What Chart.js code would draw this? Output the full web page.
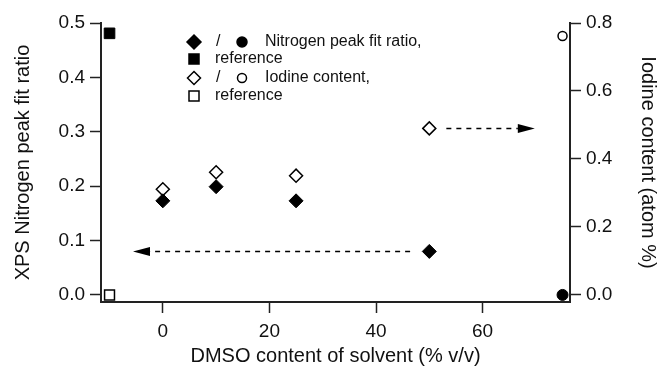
<!DOCTYPE html>
<html>
<head>
<meta charset="utf-8">
<script src="https://cdn.jsdelivr.net/npm/chart.js@4.4.1/dist/chart.umd.min.js"></script>
<style>
  html, body { margin: 0; padding: 0; background: #fff; }
  #wrap { width: 658px; height: 370px; }
</style>
</head>
<body>
<div id="wrap"><canvas id="c"></canvas></div>
<script>
// DMSO content of the solvent (% v/v)
const dmso = [0, 10, 25, 50];
const nitrogenRatio = [0.173, 0.199, 0.173, 0.080];
const iodineContent = [0.311, 0.361, 0.351, 0.490];

// reference samples (drawn at the left edge) and the right-edge pair
const refX = [-10];
const nitrogenRef = [0.481];
const iodineRef = [0.0];
const edgeX = [75];
const nitrogenEdge = [0.0];
const iodineEdge = [0.762];

// tick values
const xTicks = [0, 20, 40, 60];
const yTicks = [0, 0.1, 0.2, 0.3, 0.4, 0.5];
const y1Ticks = [0, 0.2, 0.4, 0.6, 0.8];

// dashed arrows pointing to the axis each series belongs to
const arrowFrom = [46.4, 53.2];
const arrowTo = [-5.6, 69.8];
const arrowY = [0.080, 0.490];
const arrowAxis = ["y", "y1"];

const legendText = ["Nitrogen peak fit ratio,", "reference", "Iodine content,", "reference"];

const FONT = "'Liberation Sans', Arial, Helvetica, sans-serif";
const INK = "#111";
const AXIS = "#222";

function pts(xs, ys) {
  return xs.map((x, i) => ({ x: x, y: ys[i] }));
}

// small marker helper used by the legend
function mark(ctx, kind, x, y, r, filled) {
  ctx.save();
  ctx.beginPath();
  if (kind === "diamond") {
    ctx.moveTo(x, y - r); ctx.lineTo(x + r, y); ctx.lineTo(x, y + r); ctx.lineTo(x - r, y);
    ctx.closePath();
  } else if (kind === "square") {
    ctx.rect(x - r, y - r, 2 * r, 2 * r);
  } else {
    ctx.arc(x, y, r, 0, Math.PI * 2);
  }
  ctx.fillStyle = filled ? "#000" : "#fff";
  ctx.fill();
  ctx.lineWidth = 1.5;
  ctx.strokeStyle = "#000";
  ctx.stroke();
  ctx.restore();
}

const arrowPlugin = {
  id: "arrows",
  afterDatasetsDraw(chart) {
    const ctx = chart.ctx;
    const xs = chart.scales.x;
    ctx.save();
    arrowFrom.forEach((from, i) => {
      const ys = chart.scales[arrowAxis[i]];
      const x0 = xs.getPixelForValue(from);
      const x1 = xs.getPixelForValue(arrowTo[i]);
      const y = ys.getPixelForValue(arrowY[i]);
      const dir = x1 > x0 ? 1 : -1;
      const head = 17;
      ctx.setLineDash([5, 5]);
      ctx.lineWidth = 1.5;
      ctx.strokeStyle = "#000";
      ctx.beginPath();
      ctx.moveTo(x0, y);
      ctx.lineTo(x1 - dir * head, y);
      ctx.stroke();
      ctx.setLineDash([]);
      ctx.beginPath();
      ctx.moveTo(x1, y);
      ctx.lineTo(x1 - dir * head, y - 4.5);
      ctx.lineTo(x1 - dir * head, y + 4.5);
      ctx.closePath();
      ctx.fillStyle = "#000";
      ctx.fill();
    });
    ctx.restore();
  }
};

const legendPlugin = {
  id: "markLegend",
  afterDraw(chart) {
    const ctx = chart.ctx;
    ctx.save();
    ctx.font = "16px " + FONT;
    ctx.fillStyle = INK;
    ctx.textBaseline = "middle";
    const rows = [42, 59, 78, 96];
    // row 1: filled diamond / filled circle
    mark(ctx, "diamond", 194, rows[0], 7, true);
    ctx.fillText("/", 216, rows[0]);
    mark(ctx, "circle", 242, rows[0], 5, true);
    ctx.fillText(legendText[0], 265, rows[0]);
    // row 2: filled square
    mark(ctx, "square", 194, rows[1], 5, true);
    ctx.fillText(legendText[1], 215, rows[1]);
    // row 3: open diamond / open circle
    mark(ctx, "diamond", 194, rows[2], 6.5, false);
    ctx.fillText("/", 216, rows[2]);
    mark(ctx, "circle", 242, rows[2], 4.5, false);
    ctx.fillText(legendText[2], 265, rows[2]);
    // row 4: open square
    mark(ctx, "square", 194, rows[3], 5, false);
    ctx.fillText(legendText[3], 215, rows[3]);
    ctx.restore();
  }
};

function axisGrid() {
  return { display: true, drawOnChartArea: false, drawTicks: true, tickLength: 11, tickWidth: 1.5, tickColor: AXIS };
}

new Chart(document.getElementById("c"), {
  type: "scatter",
  data: {
    datasets: [
      { label: "Nitrogen peak fit ratio", data: pts(dmso, nitrogenRatio), yAxisID: "y",
        pointStyle: "rectRot", pointRadius: 7, backgroundColor: "#000", borderColor: "#000", borderWidth: 1 },
      { label: "Nitrogen reference", data: pts(refX, nitrogenRef), yAxisID: "y",
        pointStyle: "rect", pointRadius: 7.5, backgroundColor: "#000", borderColor: "#000", borderWidth: 1 },
      { label: "Nitrogen edge", data: pts(edgeX, nitrogenEdge), yAxisID: "y",
        pointStyle: "circle", pointRadius: 5.5, backgroundColor: "#000", borderColor: "#000", borderWidth: 1 },
      { label: "Iodine content", data: pts(dmso, iodineContent), yAxisID: "y1",
        pointStyle: "rectRot", pointRadius: 6.5, backgroundColor: "#fff", borderColor: "#000", borderWidth: 1.5 },
      { label: "Iodine reference", data: pts(refX, iodineRef), yAxisID: "y1",
        pointStyle: "rect", pointRadius: 7, backgroundColor: "#fff", borderColor: "#000", borderWidth: 1.5 },
      { label: "Iodine edge", data: pts(edgeX, iodineEdge), yAxisID: "y1",
        pointStyle: "circle", pointRadius: 4.5, backgroundColor: "#fff", borderColor: "#000", borderWidth: 1.5 }
    ]
  },
  options: {
    responsive: true,
    maintainAspectRatio: false,
    animation: false,
    layout: { padding: { top: 23, left: 0, right: 0, bottom: 0 } },
    plugins: {
      legend: { display: false },
      tooltip: { enabled: false }
    },
    scales: {
      x: {
        type: "linear", position: "bottom", min: -11.6, max: 76.4,
        afterBuildTicks: (s) => { s.ticks = xTicks.map((v) => ({ value: v })); },
        afterFit: (s) => { s.height = 68; },
        grid: axisGrid(),
        border: { display: true, color: AXIS, width: 2 },
        ticks: { color: INK, font: { family: FONT, size: 19 }, padding: 7, maxRotation: 0 },
        title: { display: true, text: "DMSO content of solvent (% v/v)", color: INK,
                 font: { family: FONT, size: 20, lineHeight: 1 }, padding: { top: 0, bottom: 4 } }
      },
      y: {
        type: "linear", position: "left", min: -0.013, max: 0.5,
        afterBuildTicks: (s) => { s.ticks = yTicks.map((v) => ({ value: v })); },
        afterFit: (s) => { s.width = 101; },
        grid: axisGrid(),
        border: { display: true, color: AXIS, width: 2 },
        ticks: { color: INK, font: { family: FONT, size: 19 }, padding: 5, callback: (v) => v.toFixed(1) },
        title: { display: true, text: "XPS Nitrogen peak fit ratio", color: INK,
                 font: { family: FONT, size: 20, lineHeight: 1 }, padding: { top: 13, bottom: 0 } }
      },
      y1: {
        type: "linear", position: "right", min: -0.0206, max: 0.8,
        afterBuildTicks: (s) => { s.ticks = y1Ticks.map((v) => ({ value: v })); },
        afterFit: (s) => { s.width = 88; },
        grid: axisGrid(),
        border: { display: true, color: AXIS, width: 2 },
        ticks: { color: INK, font: { family: FONT, size: 19 }, padding: 5, callback: (v) => v.toFixed(1) },
        title: { display: true, text: "Iodine content (atom %)", color: INK,
                 font: { family: FONT, size: 20, lineHeight: 1 }, padding: { top: 0, bottom: 0 } }
      }
    }
  },
  plugins: [arrowPlugin, legendPlugin]
});
</script>
</body>
</html>
